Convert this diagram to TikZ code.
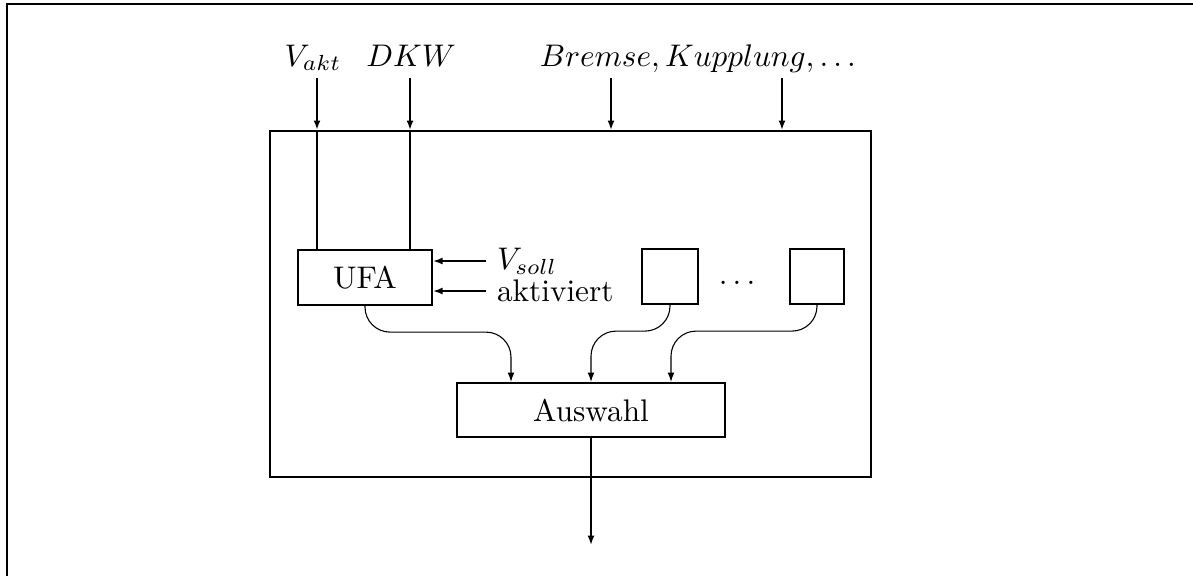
\documentclass[tikz,border=0pt]{standalone}
\usepackage{tikz}
\usetikzlibrary{arrows.meta, positioning, calc}
\tikzset{
  ufa-frame/.style={line width=0.7pt},
  ufa-blk/.style={
    rectangle, draw, line width=0.7pt, inner sep=0pt,
    minimum height=17.6pt, align=center
  },
  ufa-feed/.style={-{Latex[length=3pt, width=2.2pt]}, line width=0.5pt},
  ufa-wire/.style={line width=0.5pt},
  ufa-joint/.style={
    -{Latex[length=3pt, width=2.2pt]}, line width=0.35pt,
    rounded corners=8pt
  },
}

\begin{document}
\begin{tikzpicture}[x=0.32pt, y=-0.32pt]
  \useasboundingbox (0,0) rectangle (1193,575);
  \draw[ufa-frame] (1200,4) -- (7,4) -- (7,600);

  % system box and blocks
  \node[ufa-blk, minimum width=192.3pt, minimum height=110.7pt]
                                                (sys) at (570.5,304) {};
  \node[ufa-blk, minimum width=42.9pt]          (ufa) at (365,277.5) {UFA};
  \node[ufa-blk, minimum width=17.9pt]          (fa1) at (670,276.5) {};
  \node[ufa-blk, minimum width=17.3pt]          (fa2) at (817,276.5) {};
  \node                                         (dots) at (737,283) {$\ldots$};
  \node[ufa-blk, minimum width=85.8pt, minimum height=17.3pt]
                                                (sel) at (591,410) {Auswahl};

  % signals
  \node[anchor=base] (vakt) at (313,66) {$V_{akt}$};
  \node[anchor=base] (dkw)  at (411,66) {$DKW$};
  \node[anchor=base] (misc) at (698,66) {$Bremse, Kupplung, \ldots$};
  \node[anchor=west] (vsoll) at (486,261) {$V_{soll}$};
  \node[anchor=west] (akt)   at (486,291) {aktiviert};

  \coordinate (in1) at (317,78);
  \coordinate (in2) at (410,78);
  \coordinate (in3) at (611,78);
  \coordinate (in4) at (782,78);
  \coordinate (out) at (591,545);

  \draw[ufa-feed, line width=0.8pt] (in1) -- (in1 |- sys.north);
  \draw[ufa-wire, line width=0.8pt] (in1 |- sys.north) -- (in1 |- ufa.north);
  \draw[ufa-feed] (in2) -- (in2 |- sys.north);
  \draw[ufa-wire] (in2 |- sys.north) -- (in2 |- ufa.north);
  \draw[ufa-feed] (in3) -- (in3 |- sys.north);
  \draw[ufa-feed] (in4) -- (in4 |- sys.north);
  \draw[ufa-feed] (vsoll.west) -- (vsoll.west -| ufa.east);
  \draw[ufa-feed] (akt.west) -- (akt.west -| ufa.east);

  \draw[ufa-joint] (ufa.south) -- ++(0,26) -| ([xshift=-25.6pt]sel.north);
  \draw[ufa-joint] (fa1.south) -- ++(0,26) -| (sel.north);
  \draw[ufa-joint] (fa2.south) -- ++(0,26) -| ([xshift=25.6pt]sel.north);
  \draw[ufa-feed] (sel.south) -- (out);
\end{tikzpicture}
\end{document}
